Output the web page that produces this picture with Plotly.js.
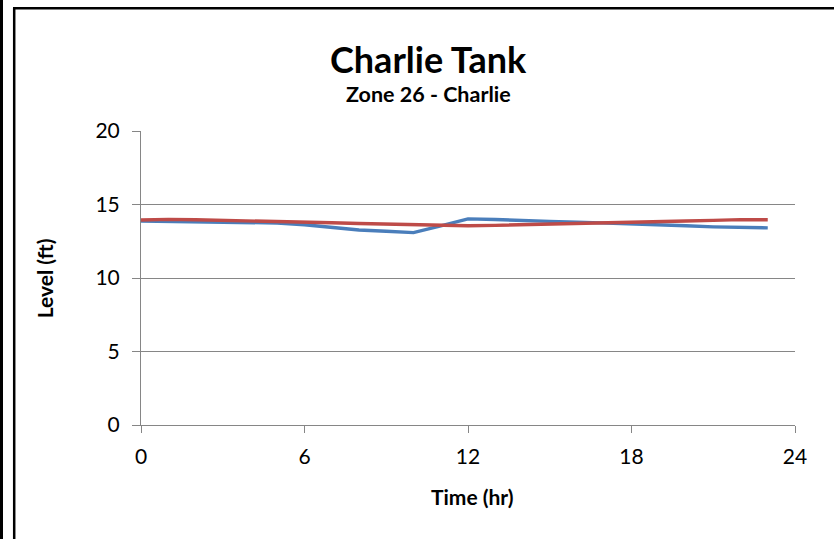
<!DOCTYPE html>
<html>
<head>
<meta charset="utf-8">
<script src="https://cdn.plot.ly/plotly-3.0.1.min.js"></script>
<style>
html,body{margin:0;padding:0;background:#fff;}
#chart{width:834px;height:539px;}
</style>
</head>
<body>
<div id="chart"></div>
<script>
var hours = [0,1,2,3,4,5,6,7,8,9,10,11,12,13,14,15,16,17,18,19,20,21,22,23];
var blueLevel = [13.88,13.86,13.84,13.82,13.80,13.74,13.62,13.42,13.27,13.18,13.09,13.55,14.02,13.98,13.90,13.85,13.80,13.75,13.68,13.61,13.55,13.48,13.44,13.41];
var redLevel = [13.95,13.99,13.96,13.93,13.90,13.87,13.82,13.76,13.71,13.67,13.63,13.58,13.55,13.58,13.63,13.68,13.72,13.76,13.80,13.84,13.88,13.92,13.97,13.96];
var xTicks = [0,6,12,18,24];
var yTicks = [0,5,10,15,20];
var titleText = "Charlie Tank";
var subtitleText = "Zone 26 - Charlie";
var xTitle = "Time (hr)";
var yTitle = "Level (ft)";

var W = 834, H = 539;
var L = 141, R = 795, T = 130.5, B = 425;
function px(x){ return (x - L) / (R - L); }
function py(y){ return (B - y) / (B - T); }

var FONT = "Lato, 'Open Sans', sans-serif";

var traces = [
  {x: hours, y: blueLevel, type: 'scatter', mode: 'lines',
   line: {color: '#4A7EBB', width: 3.4}, hoverinfo: 'skip'},
  {x: hours, y: redLevel, type: 'scatter', mode: 'lines',
   line: {color: '#BE4B48', width: 3.4}, hoverinfo: 'skip'}
];

var layout = {
  width: W, height: H,
  margin: {l: L, r: W - R, t: T, b: H - B, pad: 0},
  paper_bgcolor: '#ffffff', plot_bgcolor: '#ffffff',
  showlegend: false,
  font: {family: FONT, color: '#000000', size: 20},
  xaxis: {
    range: [0, 24], tickvals: xTicks, ticktext: xTicks.map(String),
    showgrid: false, zeroline: false,
    showline: true, linecolor: '#868686', linewidth: 1,
    ticks: 'outside', ticklen: 7, tickcolor: '#868686', tickwidth: 1,
    ticklabelstandoff: 6,
    tickfont: {family: FONT, size: 21, color: '#000'}
  },
  yaxis: {
    range: [0, 20], tickvals: yTicks, ticktext: yTicks.map(String),
    showgrid: true, gridcolor: '#868686', gridwidth: 1,
    zeroline: false,
    showline: true, linecolor: '#868686', linewidth: 1,
    ticks: 'outside', ticklen: 8, tickcolor: '#868686', tickwidth: 1,
    ticklabelstandoff: 8,
    tickfont: {family: FONT, size: 21, color: '#000'}
  },
  annotations: [
    {xref: 'paper', yref: 'paper', x: px(428), y: py(58), text: '<b>' + titleText + '</b>',
     showarrow: false, xanchor: 'center', yanchor: 'middle', font: {family: FONT, size: 36, color: '#000'}},
    {xref: 'paper', yref: 'paper', x: px(428), y: py(93), text: '<b>' + subtitleText + '</b>',
     showarrow: false, xanchor: 'center', yanchor: 'middle', font: {family: FONT, size: 21.5, color: '#000'}},
    {xref: 'paper', yref: 'paper', x: px(472), y: py(497), text: '<b>' + xTitle + '</b>',
     showarrow: false, xanchor: 'center', yanchor: 'middle', font: {family: FONT, size: 21, color: '#000'}},
    {xref: 'paper', yref: 'paper', x: px(44), y: py(278), text: '<b>' + yTitle + '</b>', textangle: -90,
     showarrow: false, xanchor: 'center', yanchor: 'middle', font: {family: FONT, size: 21, color: '#000'}}
  ],
  shapes: [
    {type: 'rect', xref: 'paper', yref: 'paper', x0: px(-2), x1: px(3), y0: py(-2), y1: py(541),
     fillcolor: '#000', line: {width: 0}},
    {type: 'line', xref: 'paper', yref: 'paper', x0: px(14.2), x1: px(14.2), y0: py(7.5), y1: py(545),
     line: {color: '#000', width: 2.5}},
    {type: 'line', xref: 'paper', yref: 'paper', x0: px(13), x1: px(840), y0: py(7.5), y1: py(7.5),
     line: {color: '#000', width: 2.5}}
  ]
};

Plotly.newPlot('chart', traces, layout, {staticPlot: true, displayModeBar: false});
</script>
</body>
</html>
